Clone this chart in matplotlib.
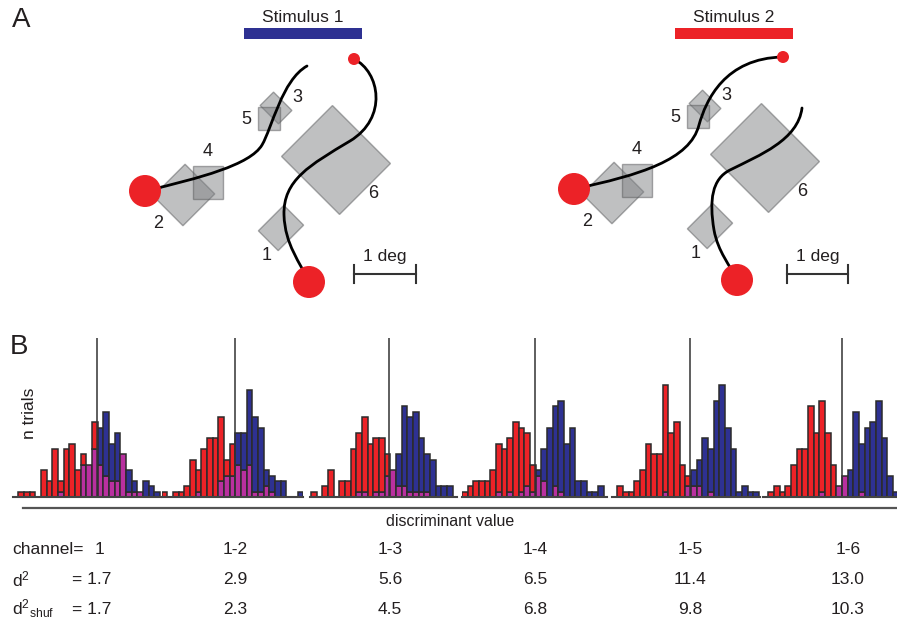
import matplotlib
matplotlib.use('Agg')
import matplotlib.pyplot as plt
from matplotlib.patches import Rectangle, Circle, PathPatch
from matplotlib.path import Path

plt.rcParams['font.family'] = ['Liberation Sans', 'DejaVu Sans']
plt.rcParams['mathtext.fontset'] = 'custom'
plt.rcParams['mathtext.rm'] = 'Liberation Sans'
plt.rcParams['mathtext.it'] = 'Liberation Sans'

W, H = 897, 623

# ---------------- panel A (schematic, pixel units) ----------------
# receptive fields of the 6 channels (left diagram)
rf_labels = ['1', '2', '3', '4', '5', '6']
rf_x = [281, 184, 276, 208, 269, 336]
rf_y = [228, 195, 108, 182, 118, 160]
rf_w = [28, 42, 26, 30, 22, 82]
rf_h = [36, 45, 19, 33, 23, 72]
rf_angle = [45, 45, 45, 0, 0, 45]
lab_x = [267, 158, 297, 208, 246, 373]
lab_y = [256, 224, 97, 152, 119, 193]
shift_x, shift_y = 429, -2   # second diagram offset

# eye traces as cubic bezier control points
trace1a = [(145, 191), (200, 178), (250, 165), (262, 145), (272, 128), (282, 80), (307, 66)]
trace1b = [(354, 59), (380, 72), (388, 118), (350, 141), (310, 165), (283, 180),
           (284, 215), (285, 245), (300, 262), (309, 282)]
trace2a = [(574, 189), (640, 175), (690, 160), (699, 125), (706, 100), (725, 58), (783, 57)]
trace2b = [(802, 108), (798, 140), (760, 155), (730, 170), (712, 179), (709, 200),
           (714, 230), (718, 252), (730, 265), (737, 280)]
dots1_x, dots1_y, dots_r = [145, 309, 354], [191, 282, 59], [16, 16, 6]
dots2_x, dots2_y = [574, 737, 783], [189, 280, 57]

stim_names = ['Stimulus 1', 'Stimulus 2']
stim_colors = ['#2e3192', '#ec2227']
stim_left = [244, 675]
stim_right = [362, 793]
scale_left = [354, 787]
scale_right = [416, 848]

# ---------------- panel B (histograms) ----------------
red_counts = [
    [1, 1, 1, 0, 5, 3, 9, 3, 9, 10, 5, 8, 6, 14, 6, 4, 3, 3, 8, 1, 1, 1, 0, 0, 0],
    [1, 0, 1, 1, 2, 7, 5, 9, 11, 11, 15, 7, 10, 6, 5, 6, 1, 1, 2, 1, 0, 0, 0, 0, 0],
    [1, 0, 2, 5, 0, 3, 3, 9, 12, 15, 10, 11, 11, 8, 5, 2, 2, 1, 1, 1, 1, 0, 0, 0, 0],
    [1, 2, 3, 3, 3, 5, 10, 9, 11, 14, 13, 12, 6, 4, 3, 0, 2, 1, 0, 0, 0, 0, 0, 0, 0],
    [2, 1, 1, 3, 5, 10, 8, 8, 21, 12, 14, 6, 4, 2, 2, 0, 1, 0, 0, 0, 0, 0, 0, 0, 0],
    [1, 2, 1, 2, 6, 9, 9, 17, 12, 18, 12, 6, 2, 4, 0, 0, 1, 0, 0, 0, 0, 0, 0],
]
blue_counts = [
    [0, 0, 0, 0, 0, 0, 0, 1, 0, 0, 0, 6, 6, 9, 13, 16, 10, 12, 8, 5, 3, 1, 3, 2, 1],
    [0, 0, 0, 0, 0, 0, 1, 0, 0, 0, 3, 4, 4, 12, 12, 20, 15, 13, 5, 4, 3, 3, 0, 0, 1],
    [0, 0, 0, 0, 0, 0, 0, 0, 1, 1, 0, 1, 1, 4, 5, 8, 17, 15, 16, 11, 8, 7, 2, 2, 2],
    [0, 0, 0, 0, 0, 0, 1, 0, 1, 0, 1, 2, 1, 5, 9, 13, 17, 18, 10, 13, 3, 3, 1, 1, 2],
    [0, 0, 0, 0, 0, 0, 0, 0, 1, 0, 0, 0, 2, 5, 7, 11, 9, 18, 21, 13, 9, 1, 2, 1, 1],
    [0, 0, 0, 0, 0, 0, 0, 0, 0, 1, 0, 0, 2, 4, 5, 16, 10, 13, 14, 18, 11, 4, 1],
]
thresholds = [13.9, 12.9, 13.8, 12.9, 12.8, 13.0]   # in bin units
channels = ['1', '1-2', '1-3', '1-4', '1-5', '1-6']
d2 = ['1.7', '2.9', '5.6', '6.5', '11.4', '13.0']
d2_shuf = ['1.7', '2.3', '4.5', '6.8', '9.8', '10.3']

# layout of the histogram strips (pixels)
first_bar_px = [18.3, 161.7, 311, 462, 617.3, 768.3]
base_left = [13, 162, 310, 462, 612, 763]
base_right = [161, 303, 457, 607, 760, 897]
bin_px, unit_px = 5.67, 5.33
hist_bottom, hist_top = 497, 338
col_x = [100, 235, 390, 535, 690, 848]

RED, BLUE, MAG = '#ec2227', '#2e3192', '#b9309f'
EDGE = '#2b2b2b'
TXT = '#231f20'

fig = plt.figure(figsize=(W / 100, H / 100), dpi=100)
ax0 = fig.add_axes([0, 0, 1, 1])
ax0.set_xlim(0, W)
ax0.set_ylim(H, 0)
ax0.axis('off')


def bezier(ax, pts):
    codes = [Path.MOVETO] + [Path.CURVE4] * (len(pts) - 1)
    ax.add_patch(PathPatch(Path(pts, codes), facecolor='none', edgecolor='black',
                           lw=2.0, capstyle='round', zorder=3))


for k in range(2):
    dx, dy = shift_x * k, shift_y * k
    for i in range(6):
        ax0.add_patch(Rectangle((rf_x[i] + dx - rf_w[i] / 2, rf_y[i] + dy - rf_h[i] / 2),
                                rf_w[i], rf_h[i], angle=rf_angle[i], rotation_point='center',
                                facecolor='#808285', alpha=0.5, edgecolor='#58595b',
                                lw=1.0, zorder=2))
        ax0.text(lab_x[i] + dx, lab_y[i] + dy, rf_labels[i], fontsize=13,
                 ha='center', va='center', color=TXT)
    # stimulus bar
    ax0.add_patch(Rectangle((stim_left[k], 28), stim_right[k] - stim_left[k], 11,
                            facecolor=stim_colors[k], edgecolor='none'))
    ax0.text((stim_left[k] + stim_right[k]) / 2, 17, stim_names[k], fontsize=12.5,
             ha='center', va='center', color=TXT)
    # scale bar
    ax0.plot([scale_left[k], scale_right[k]], [274, 274], color='#333333', lw=1.5)
    for sx in (scale_left[k], scale_right[k]):
        ax0.plot([sx, sx], [265, 283], color='#333333', lw=1.5)
    ax0.text((scale_left[k] + scale_right[k]) / 2, 257, '1 deg', fontsize=12.5,
             ha='center', va='center', color=TXT)

for tr in (trace1a, trace1b, trace2a, trace2b):
    bezier(ax0, tr)
for xs, ys in ((dots1_x, dots1_y), (dots2_x, dots2_y)):
    for x, y, r in zip(xs, ys, dots_r):
        ax0.add_patch(Circle((x, y), r, facecolor=RED, edgecolor='none', zorder=4))

ax0.text(12, 20, 'A', fontsize=20, ha='left', va='center', color=TXT)
ax0.text(10, 347, 'B', fontsize=20, ha='left', va='center', color=TXT)
ax0.text(29, 413, 'n trials', fontsize=12.5, rotation=90, ha='center', va='center',
         color=TXT)

# long axis line + label
ax0.plot([23, W], [508, 508], color='#555555', lw=1.6)
ax0.text(450, 522, 'discriminant value', fontsize=11.5, ha='center', va='center',
         color=TXT)

# table of values
ax0.text(12, 550, 'channel=', fontsize=12.5, ha='left', va='center', color=TXT)
ax0.text(12, 579, r'$\mathregular{d^2}$', fontsize=12.5, ha='left', va='center',
         color=TXT)
ax0.text(12, 609, r'$\mathregular{d^2{}_{shuf}}$', fontsize=12.5, ha='left', va='center',
         color=TXT)
for i in range(6):
    ax0.text(col_x[i], 550, channels[i], fontsize=12.5, ha='center', va='center',
             color=TXT)
    pre = '= ' if i == 0 else ''
    off = -8 if i == 0 else 0
    ax0.text(col_x[i] + off, 579, pre + d2[i], fontsize=12.5,
             ha='center', va='center', color=TXT)
    ax0.text(col_x[i] + off, 609, pre + d2_shuf[i], fontsize=12.5,
             ha='center', va='center', color=TXT)

# histograms
for p in range(6):
    left = base_left[p] / W
    width = (base_right[p] - base_left[p]) / W
    bottom = 1 - hist_bottom / H
    height = (hist_bottom - hist_top) / H
    ax = fig.add_axes([left, bottom, width, height])
    ax.set_facecolor('none')
    red, blue = red_counts[p], blue_counts[p]
    for i, (r, b) in enumerate(zip(red, blue)):
        lo, hi = min(r, b), max(r, b)
        if lo > 0:
            ax.bar(i, lo, width=1, align='edge', color=MAG, edgecolor=EDGE, lw=1.1)
        if hi > lo:
            ax.bar(i, hi - lo, bottom=lo, width=1, align='edge',
                   color=RED if r > b else BLUE, edgecolor=EDGE, lw=1.1)
    ax.axvline(thresholds[p], color='#333333', lw=1.1)
    ax.set_xlim((base_left[p] - first_bar_px[p]) / bin_px,
                (base_right[p] - first_bar_px[p]) / bin_px)
    ax.set_ylim(0, (hist_bottom - hist_top) / unit_px)
    for s in ('top', 'right', 'left'):
        ax.spines[s].set_visible(False)
    ax.spines['bottom'].set_color('#444444')
    ax.spines['bottom'].set_linewidth(1.5)
    ax.set_xticks([])
    ax.set_yticks([])

fig.savefig('out.png', dpi=100)
